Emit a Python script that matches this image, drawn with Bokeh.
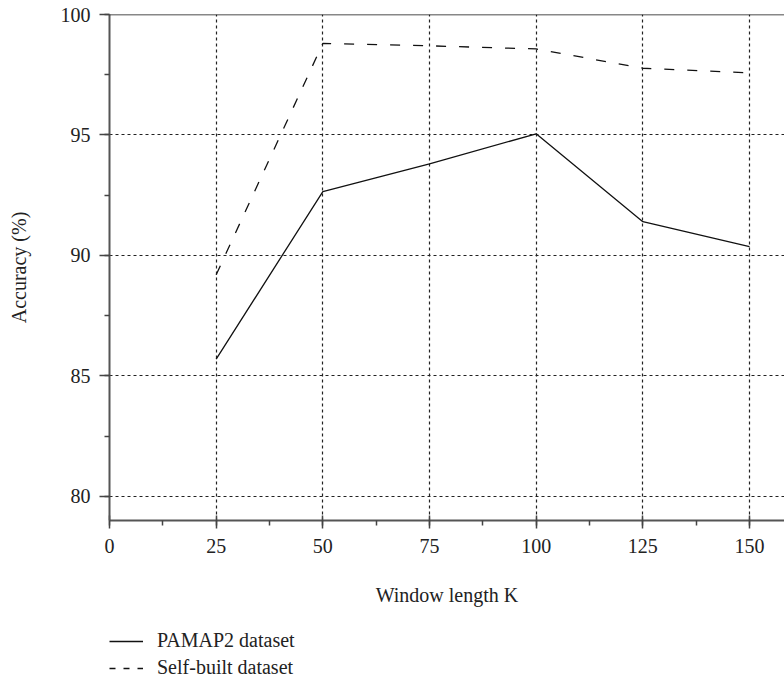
from bokeh.plotting import figure
from bokeh.layouts import column
from bokeh.models import (SingleIntervalTicker, Range1d, Span, Legend, LegendItem)
from bokeh.embed import file_html
from bokeh.resources import INLINE

# ---- data ----
window_k = [25, 50, 75, 100, 125, 150]
pamap2 = [85.7, 92.65, 93.8, 95.05, 91.4, 90.37]
self_built = [89.2, 98.8, 98.7, 98.57, 97.77, 97.58]
x_ticks = [0, 25, 50, 75, 100, 125, 150]
y_ticks = [80, 85, 90, 95, 100]
series_names = ["PAMAP2 dataset", "Self-built dataset"]

FONT = "Liberation Serif"

p = figure(width=784, height=608, output_backend="svg", toolbar_location=None,
           x_range=Range1d(0, 158.2), y_range=Range1d(79, 100),
           min_border_left=109, min_border_top=14, min_border_right=0,
           min_border_bottom=88)
p.outline_line_color = None
p.background_fill_color = "white"
p.border_fill_color = "white"

# axes
p.xaxis.ticker = SingleIntervalTicker(interval=25, num_minor_ticks=2)
p.yaxis.ticker = SingleIntervalTicker(interval=5, num_minor_ticks=2)
for ax in (p.xaxis[0], p.yaxis[0]):
    ax.axis_line_color = "#555555"
    ax.axis_line_width = 2
    ax.major_tick_line_color = "#444444"
    ax.major_tick_line_width = 1.5
    ax.minor_tick_line_color = "#444444"
    ax.minor_tick_line_width = 1.5
    ax.major_label_text_font = FONT
    ax.major_label_text_font_size = "20px"
    ax.major_label_text_color = "#222222"
    ax.axis_label_text_font = FONT
    ax.axis_label_text_font_size = "20px"
    ax.axis_label_text_font_style = "normal"
    ax.axis_label_text_color = "#222222"

p.xaxis.axis_label = "Window length K"
p.xaxis.major_tick_in = 5
p.xaxis.major_tick_out = 8
p.xaxis.minor_tick_in = 0
p.xaxis.minor_tick_out = 5
p.xaxis.major_label_standoff = 10
p.xaxis.axis_label_standoff = 28

p.yaxis.axis_label = "Accuracy (%)"
p.yaxis.major_tick_in = 0
p.yaxis.major_tick_out = 10
p.yaxis.minor_tick_in = 0
p.yaxis.minor_tick_out = 5
p.yaxis.major_label_standoff = 9
p.yaxis.axis_label_standoff = 28

# grid
for g in (p.xgrid[0], p.ygrid[0]):
    g.grid_line_color = "#222222"
    g.grid_line_dash = "3 3"
    g.grid_line_width = 1.2

# top border
p.add_layout(Span(location=100, dimension="width", line_color="#111111", line_width=1.5))

p.line(window_k, pamap2, line_color="#111111", line_width=1.3)
p.line(window_k, self_built, line_color="#111111", line_width=1.3, line_dash="10 13")

# ---- legend strip below the chart ----
p2 = figure(width=784, height=72, output_backend="svg", toolbar_location=None,
            x_range=Range1d(0, 1), y_range=Range1d(0, 1),
            min_border_left=109, min_border_right=0, min_border_top=0, min_border_bottom=0)
p2.axis.visible = False
p2.grid.visible = False
p2.outline_line_color = None
p2.background_fill_color = "white"
p2.border_fill_color = "white"

# sample renderers placed outside the visible range; they only style the legend
s1 = p2.line([-5, -4], [-5, -5], line_color="#111111", line_width=1.3)
s2 = p2.line([-5, -4], [-5, -5], line_color="#111111", line_width=1.3, line_dash="6 8")

leg = Legend(items=[LegendItem(label=series_names[0], renderers=[s1]),
                    LegendItem(label=series_names[1], renderers=[s2])],
             location=(0, 1), orientation="vertical")
leg.label_text_font = FONT
leg.label_text_font_size = "20px"
leg.label_text_color = "#222222"
leg.glyph_width = 34
leg.label_standoff = 14
leg.spacing = 4
leg.padding = 0
leg.margin = 0
leg.border_line_color = None
leg.background_fill_alpha = 0
leg.label_height = 20
leg.glyph_height = 20
p2.add_layout(leg)

layout = column(p, p2, spacing=0)
open("out.html", "w").write(file_html(layout, INLINE))
